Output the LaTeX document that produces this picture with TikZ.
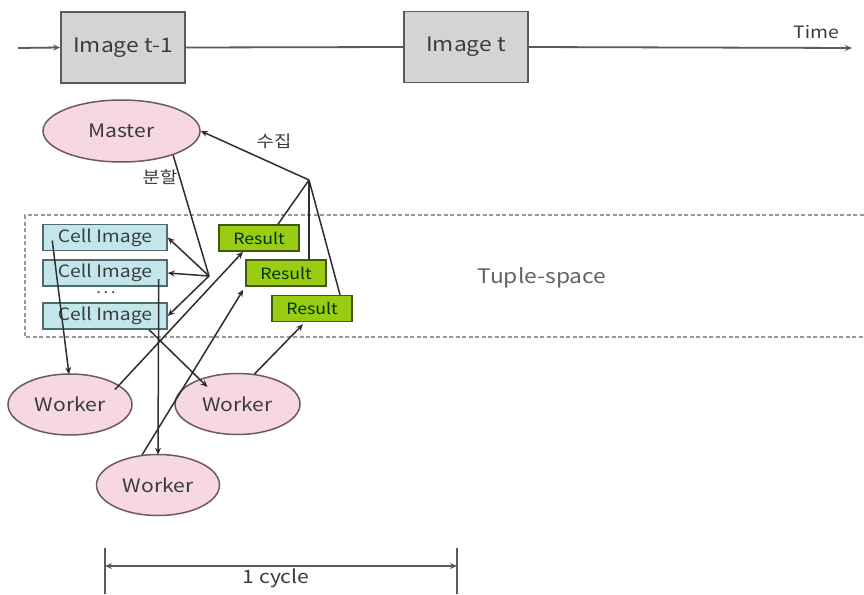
\documentclass[tikz,border=0pt]{standalone}
\usepackage{fontspec}
\setmainfont{Noto Sans CJK KR}[FakeStretch=1.14]
\usetikzlibrary{arrows.meta,calc,shapes.geometric}

\definecolor{framefill}{HTML}{D4D4D4}
\definecolor{frameline}{HTML}{5A5A5A}
\definecolor{ovalfill}{HTML}{F7D7E1}
\definecolor{ovalline}{HTML}{6E5962}
\definecolor{cellfill}{HTML}{C2E6EA}
\definecolor{cellline}{HTML}{4D6B70}
\definecolor{resfill}{HTML}{9ACC14}
\definecolor{resline}{HTML}{3F5A0C}
\definecolor{ink}{HTML}{3C3C3C}
\definecolor{wire}{HTML}{2E2E2E}

\tikzset{
  lbl/.style={font=\fontsize{18.5}{21}\selectfont, text=ink, inner sep=0pt},
  frame/.style={draw=frameline, fill=framefill, line width=1.8pt, inner sep=0pt,
    minimum width=124pt, minimum height=71pt, lbl, font=\fontsize{20}{22}\selectfont},
  oval/.style={ellipse, draw=ovalline, fill=ovalfill, line width=1.5pt, inner sep=0pt, lbl},
  cellbox/.style={draw=cellline, fill=cellfill, line width=1.5pt, inner sep=0pt,
    minimum width=124pt, minimum height=26pt, lbl, font=\fontsize{17}{19}\selectfont},
  resbox/.style={draw=resline, fill=resfill, line width=1.5pt, inner sep=0pt,
    minimum width=80pt, minimum height=26pt, lbl, font=\fontsize{15.5}{17}\selectfont, text=black!80!green},
  link/.style={draw=wire, line width=1.5pt},
  tip/.style={-{Stealth[length=7pt,width=6pt]}},
  timeline/.style={draw=frameline, line width=1.8pt},
  zone/.style={draw=gray!80, line width=1.5pt, dash pattern=on 4pt off 2.5pt},
}

\begin{document}
\begin{tikzpicture}[x=1pt, y=-1pt]
\useasboundingbox[fill=white] (0,0) rectangle (864,594);

% time axis with the two frames
\node[frame] (prev) at (123,47.5) {Image t-1};
\node[frame] (cur) at (466,47) {Image t};
\coordinate (tstart) at (18,48);
\coordinate (tend) at (852,48);
\draw[timeline, tip] (tstart) -- (prev.west);
\draw[timeline] (prev.east) -- (cur.west);
\draw[timeline, tip] (cur.east) -- (tend);
\node[lbl, font=\fontsize{17}{19}\selectfont] (timelbl) at (816,32) {Time};

% tuple space region (open to the right)
\draw[zone] (870,215) -- (25,215) -- (25,337) -- (870,337);
\node[lbl, text=ink!80, font=\fontsize{20}{22}\selectfont] (tslbl) at (542,278) {Tuple-space};

% master
\node[oval, minimum width=157pt, minimum height=62pt] (master) at (121.5,131) {Master};
\node[lbl, font=\fontsize{16.5}{19}\selectfont] (splitlbl) at (160,177) {분할};
\node[lbl, font=\fontsize{16.5}{19}\selectfont] (collectlbl) at (274,141) {수집};

% cell images
\node[cellbox] (c1) at (105,237.5) {Cell Image};
\node[cellbox] (c2) at (105,273) {Cell Image};
\node[cellbox] (c3) at (105,316) {Cell Image};
\node[lbl, font=\fontsize{15}{17}\selectfont] (dots) at (106,293) {.\,.\,.};

% results
\node[resbox] (r1) at (259,238) {Result};
\node[resbox] (r2) at (286,273) {Result};
\node[resbox] (r3) at (312,308.5) {Result};

% workers
\node[oval, minimum width=124pt, minimum height=61pt] (w1) at (70,404.5) {Worker};
\node[oval, minimum width=125pt, minimum height=61pt] (w2) at (237.5,404) {Worker};
\node[oval, minimum width=123pt, minimum height=61pt] (w3) at (158,485) {Worker};

% split: master -> cells
\coordinate (split) at (209,276);
\draw[link] (master.-25) -- (split);
\draw[link, tip] (split) -- (c1.east);
\draw[link, tip] (split) -- (c2.east);
\draw[link, tip] (split) -- (c3.east);

% collect: results -> master
\coordinate (collect) at (309,180);
\draw[link] ($(r1.north)+(19,0)$) -- (collect);
\draw[link] ($(r2.north)+(23,0)$) -- (collect);
\draw[link] ($(r3.north)+(28,0)$) -- (collect);
\draw[link, tip] (collect) -- (master.east);

% cells -> workers
\draw[link, tip] ($(c1.west)+(10,3)$) -- ($(w1.north)+(-1,1)$);
\draw[link, tip] ($(c2.east)+(-9,6)$) -- ($(w3.north)+(0,1)$);
\draw[link, tip] ($(c3.south)+(44,0)$) -- ($(w2)+(-30,-17)$);

% workers -> results
\draw[link, tip] ($(w1)+(45,-15)$) -- ($(r1.south)+(-16,0)$);
\draw[link, tip] ($(w3)+(-16,-30)$) -- ($(r2.south west)+(-2,3)$);
\draw[link, tip] ($(w2)+(17,-30)$) -- ($(r3.south)+(-9,2)$);

% one cycle span
\coordinate (cycA) at (105,566);
\coordinate (cycB) at (457,566);
\draw[timeline] ($(cycA)+(0,-18)$) -- ($(cycA)+(0,28)$);
\draw[timeline] ($(cycB)+(0,-18)$) -- ($(cycB)+(0,28)$);
\draw[timeline, {Stealth[length=7pt,width=6pt]}-{Stealth[length=7pt,width=6pt]}] (cycA) -- (cycB);
\node[lbl, font=\fontsize{18.5}{21}\selectfont] (cyclbl) at (276,578) {1 cycle};
\end{tikzpicture}
\end{document}
